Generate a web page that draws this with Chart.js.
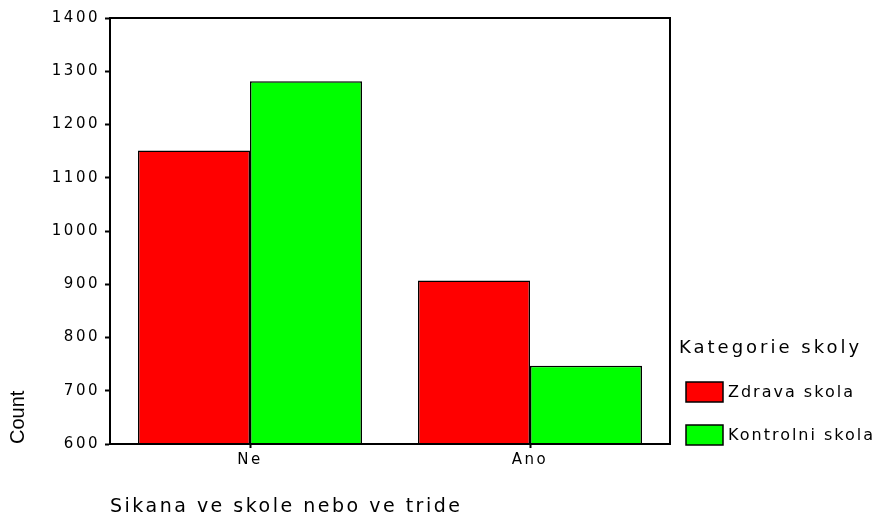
<!DOCTYPE html>
<html>
<head>
<meta charset="utf-8">
<script src="https://cdn.jsdelivr.net/npm/chart.js@4.4.0/dist/chart.umd.min.js"></script>
<style>
  body { margin: 0; background: #fff; }
  canvas { display: block; }
</style>
</head>
<body>
<canvas id="chart" width="873" height="516"></canvas>
<script>
// Data
const categories = ['Ne', 'Ano'];
const seriesNames = ['Zdrava skola', 'Kontrolni skola'];
const zdravaSkola = [1151, 907];
const kontrolniSkola = [1281, 747];
const yMin = 600;
const yMax = 1400;
const yStep = 100;
const legendTitle = 'Kategorie skoly';
const xTitle = 'Sikana ve skole nebo ve tride';
const yTitle = 'Count';

const FONT = '"DejaVu Sans", Verdana, sans-serif';
const NARROW = '"Liberation Sans", Arial, sans-serif';

// SPSS stretches its text sideways; letter spacing fakes that.
// "Count" (y title) is drawn before the bars without it, the rest after the bars with it.
const spacingPlugin = {
  id: 'spacing',
  beforeDraw: (chart) => { chart.ctx.letterSpacing = '0px'; },
  beforeDatasetsDraw: (chart) => { chart.ctx.letterSpacing = '2.5px'; },
  afterDraw: (chart) => { chart.ctx.letterSpacing = '0px'; }
};

// top and right edges of the plot box
const framePlugin = {
  id: 'frame',
  afterDatasetsDraw: (chart) => {
    const { ctx, chartArea: a } = chart;
    ctx.save();
    ctx.strokeStyle = '#000';
    ctx.lineWidth = 2;
    ctx.beginPath();
    ctx.moveTo(a.left, a.top);
    ctx.lineTo(a.right, a.top);
    ctx.lineTo(a.right, a.bottom);
    ctx.stroke();
    ctx.restore();
  }
};

const legendPlugin = {
  id: 'sideLegend',
  afterDraw: (chart) => {
    const { ctx, chartArea: a } = chart;
    const x = a.right + 16;
    ctx.save();
    ctx.fillStyle = '#000';
    ctx.textAlign = 'left';
    ctx.textBaseline = 'middle';
    ctx.font = '18px ' + FONT;
    ctx.letterSpacing = '3px';
    ctx.fillText(legendTitle, a.right + 9, a.bottom - 96);
    ctx.font = '16px ' + FONT;
    ctx.letterSpacing = '2px';
    chart.data.datasets.forEach((ds, i) => {
      const top = a.bottom - 62 + i * 43;
      ctx.fillStyle = ds.backgroundColor;
      ctx.fillRect(x, top, 37, 20);
      ctx.strokeStyle = '#000';
      ctx.lineWidth = 1.5;
      ctx.strokeRect(x, top, 37, 20);
      ctx.fillStyle = '#000';
      ctx.fillText(ds.label, x + 42, top + 11);
    });
    ctx.restore();
  }
};

new Chart(document.getElementById('chart').getContext('2d'), {
  type: 'bar',
  data: {
    labels: categories,
    datasets: [
      {
        label: seriesNames[0],
        data: zdravaSkola,
        backgroundColor: '#ff0000',
        borderColor: '#000',
        borderWidth: 1.5
      },
      {
        label: seriesNames[1],
        data: kontrolniSkola,
        backgroundColor: '#00ff00',
        borderColor: '#000',
        borderWidth: 1.5
      }
    ]
  },
  options: {
    responsive: false,
    animation: false,
    categoryPercentage: 0.8,
    barPercentage: 1.0,
    layout: { padding: { top: 18, right: 203, bottom: 0, left: 0 } },
    plugins: {
      legend: { display: false },
      tooltip: { enabled: false }
    },
    scales: {
      x: {
        afterFit: (scale) => { scale.height = 72; },
        grid: {
          offset: false,
          drawOnChartArea: false,
          tickLength: 4,
          tickWidth: 2,
          tickColor: '#000',
          z: 1
        },
        border: { color: '#000', width: 2, z: 1 },
        ticks: {
          color: '#000',
          font: { family: FONT, size: 15 },
          padding: 3,
          z: 1
        },
        title: {
          display: true,
          text: xTitle,
          align: 'start',
          color: '#000',
          font: { family: FONT, size: 19 },
          padding: { top: 0, bottom: -2 }
        }
      },
      y: {
        min: yMin,
        max: yMax,
        afterFit: (scale) => { scale.width = 110; },
        grid: {
          drawOnChartArea: false,
          tickLength: 5,
          tickWidth: 2,
          tickColor: '#000'
        },
        border: { color: '#000', width: 2 },
        ticks: {
          stepSize: yStep,
          color: '#000',
          font: { family: FONT, size: 15 },
          padding: 5,
          z: 1,
          callback: (value) => String(value)
        },
        title: {
          display: true,
          text: yTitle,
          align: 'start',
          color: '#000',
          font: { family: NARROW, size: 20 },
          padding: { top: 6, bottom: 0 }
        }
      }
    }
  },
  plugins: [spacingPlugin, framePlugin, legendPlugin]
});
</script>
</body>
</html>
